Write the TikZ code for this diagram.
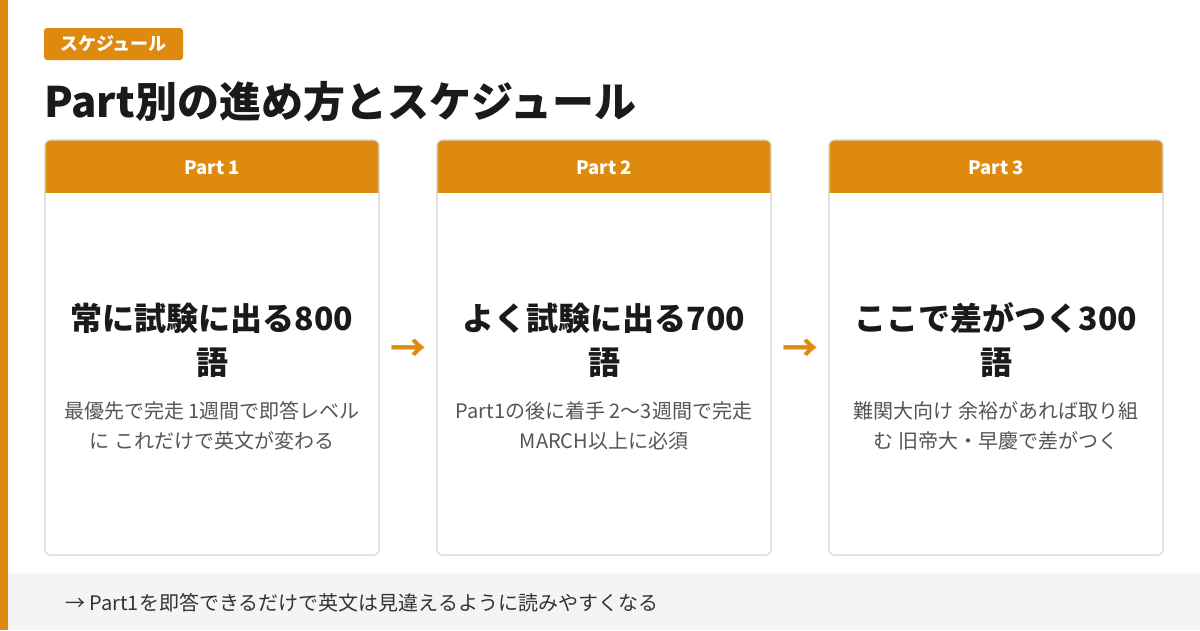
\documentclass[tikz,border=0pt]{standalone}
\usepackage{fontspec}
\setmainfont{Noto Sans CJK JP}
\definecolor{accent}{HTML}{DE8A0E}
\definecolor{cardline}{HTML}{DDDDDD}
\definecolor{ink}{HTML}{1A1A1A}
\definecolor{desc}{HTML}{555555}
\definecolor{footbg}{HTML}{F4F4F4}
\definecolor{foottxt}{HTML}{333333}
\tikzset{
  x=1pt, y=-1pt,
  cardbox/.style={fill=white, rounded corners=6pt, minimum width=334pt, minimum height=415pt, inner sep=0pt},
  headtxt/.style={text=white, font=\fontsize{18.5}{22}\selectfont\bfseries},
  mainline/.style={text=ink, align=center, font=\fontsize{32}{44}\selectfont\bfseries, inner sep=0pt},
  desctxt/.style={text=desc, align=center, font=\fontsize{20}{30}\selectfont, inner sep=0pt},
  flowarrow/.style={text=accent, font=\fontsize{36}{36}\selectfont\bfseries, inner sep=0pt},
}
\begin{document}
\begin{tikzpicture}
\useasboundingbox (0,0) rectangle (1200,630);
\fill[white] (0,0) rectangle (1200,630);
% footer
\fill[footbg] (8,573) rectangle (1200,630);
% left bar
\fill[accent] (0,0) rectangle (8,630);
% tag
\node[fill=accent, rounded corners=3pt, minimum width=139pt, minimum height=32pt, inner sep=0pt,
      text=white, font=\fontsize{18}{20}\selectfont\bfseries] (tag) at (113.5,44) {スケジュール};
% title
\node[anchor=base west, inner sep=0pt, text=ink, font=\fontsize{42}{48}\selectfont\bfseries] (title) at (44,117) {Part別の進め方とスケジュール};
% cards
\foreach \i/\cx/\lab in {1/212/Part 1, 2/604/Part 2, 3/996/Part 3}{
  \node[cardbox] (c\i) at (\cx,347.5) {};
  \begin{scope}
    \clip[rounded corners=6pt] (c\i.north west) rectangle (c\i.south east);
    \fill[accent] (c\i.north west) rectangle ([yshift=-53pt]c\i.north east);
  \end{scope}
  \draw[cardline, line width=1.5pt, rounded corners=6pt] (c\i.north west) rectangle (c\i.south east);
  \node[headtxt] (h\i) at ([yshift=-28pt]c\i.north) {\lab};
}
\node[mainline] (m1) at (212,340) {常に試験に出る800\\語};
\node[mainline] (m2) at (604,340) {よく試験に出る700\\語};
\node[mainline] (m3) at (996,340) {ここで差がつく300\\語};
\node[desctxt] (d1) at (212,426) {最優先で完走 1週間で即答レベル\\に これだけで英文が変わる};
\node[desctxt] (d2) at (604,426) {Part1の後に着手 2〜3週間で完走\\MARCH以上に必須};
\node[desctxt] (d3) at (996,426) {難関大向け 余裕があれば取り組\\む 旧帝大・早慶で差がつく};
\node[flowarrow] (a1) at (408,350) {→};
\node[flowarrow] (a2) at (800,350) {→};
% footer text
\node[anchor=base west, inner sep=0pt, text=foottxt, font=\fontsize{20}{22}\selectfont] (foot) at (65,610) {→ Part1を即答できるだけで英文は見違えるように読みやすくなる};
\end{tikzpicture}
\end{document}
